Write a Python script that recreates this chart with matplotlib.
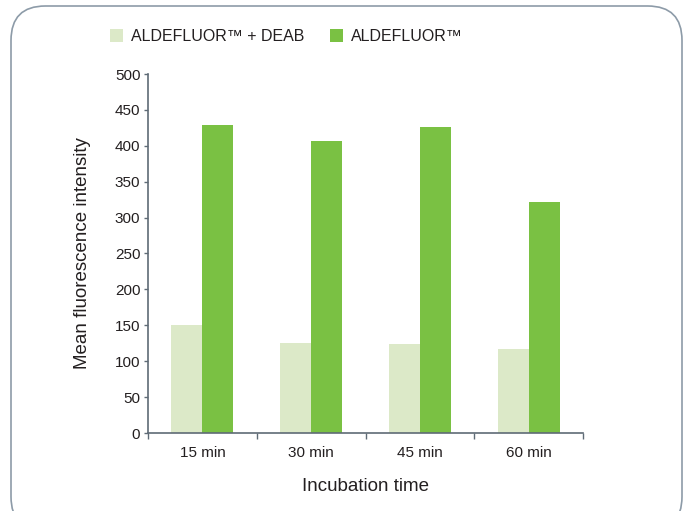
import matplotlib
matplotlib.use("Agg")
import matplotlib.pyplot as plt
from matplotlib.patches import FancyBboxPatch, Patch
import numpy as np

categories = ["15 min", "30 min", "45 min", "60 min"]
deab = [150, 125, 124, 117]
aldefluor = [429, 407, 426, 322]
series_names = ["ALDEFLUOR™ + DEAB", "ALDEFLUOR™"]
yticks = [0, 50, 100, 150, 200, 250, 300, 350, 400, 450, 500]

plt.rcParams['font.family'] = ['Liberation Sans', 'DejaVu Sans']

light = "#dce9c8"
dark = "#7ac143"
axcol = "#5f6b76"
txtcol = "#231f20"

fig = plt.figure(figsize=(6.87, 5.11), dpi=100)
# rounded border
border = FancyBboxPatch((11/687, -20/511), (682-11)/687, (511-6+20)/511,
                        boxstyle="round,pad=0,rounding_size=0.05",
                        transform=fig.transFigure, fill=False,
                        edgecolor="#8d9ba8", linewidth=1.2, mutation_aspect=687/511)
fig.patches.append(border)

ax = fig.add_axes([148/687, (511-433)/511, (583-148)/687, (433-74)/511])
x = np.arange(len(categories))
w = 0.285
ax.bar(x - w/2, deab, width=w, color=light, label=series_names[0])
ax.bar(x + w/2, aldefluor, width=w, color=dark, label=series_names[1])

ax.set_xlim(-0.5, len(categories) - 0.5)
ax.set_ylim(0, 500)
ax.set_yticks(yticks)
ax.set_xticks(x)
ax.set_xticklabels(categories)
ax.set_xticks(np.arange(len(categories) + 1) - 0.5, minor=True)
ax.tick_params(axis='x', which='major', length=0, pad=9, labelsize=11, labelcolor=txtcol)
ax.tick_params(axis='x', which='minor', length=4, color=axcol, width=1)
ax.tick_params(axis='y', length=3, color=axcol, width=1, labelsize=11, labelcolor=txtcol, pad=2.5)
for s in ["top", "right"]:
    ax.spines[s].set_visible(False)
for s in ["left", "bottom"]:
    ax.spines[s].set_color(axcol)
    ax.spines[s].set_linewidth(1.2)

ax.set_xlabel("Incubation time", fontsize=13.5, color=txtcol, labelpad=13)
ax.set_ylabel("Mean fluorescence intensity", fontsize=13.5, color=txtcol, labelpad=17)

handles = [Patch(facecolor=light, edgecolor='none'), Patch(facecolor=dark, edgecolor='none')]
fig.legend(handles, series_names, loc="center left", bbox_to_anchor=(110/687, 1 - 36.5/511),
           ncol=2, frameon=False, fontsize=11.5, handlelength=0.81, handleheight=0.81,
           handletextpad=0.5, columnspacing=1.6, labelcolor=txtcol, borderpad=0,
           borderaxespad=0)

fig.savefig("out.png", dpi=100)
